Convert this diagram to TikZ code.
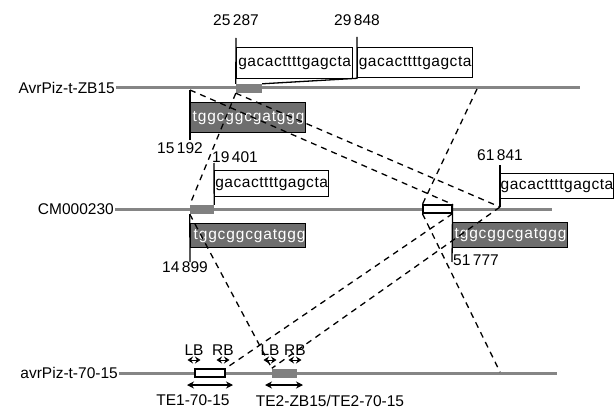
\documentclass[tikz,border=0pt]{standalone}
\usepackage{fontspec}
\setmainfont{Liberation Sans}
\newfontfamily\seqfont[LetterSpace=3.5]{Liberation Sans}
\newfontfamily\darkseqfont[LetterSpace=5.5]{Liberation Sans}
\usetikzlibrary{arrows.meta,positioning}

\begin{document}
\begin{tikzpicture}[
  x=1pt, y=-1pt,
  font=\fontsize{15.5}{18}\selectfont,
  >=Stealth,
  chrom/.style={draw=black!48, line width=3pt},
  strain/.style={anchor=east, inner sep=1pt},
  coordlab/.style={inner sep=1pt},
  tick/.style={draw=black, line width=1.3pt},
  link/.style={draw=black, line width=1.3pt, dash pattern=on 6pt off 5pt},
  graybox/.style={fill=black!50, inner sep=0pt, minimum height=9pt},
  whitebox/.style={draw=black, fill=white, line width=1.2pt, inner sep=0pt, minimum height=8pt},
  seqbox/.style={draw=black, fill=white, line width=1.3pt, inner sep=0pt,
    minimum width=115pt, minimum height=26pt, anchor=north west,
    font=\fontsize{15.5}{18}\seqfont},
  darkbox/.style={seqbox, fill=black!57, text=white, inner xsep=2pt,
    text width=111pt, align=left, font=\fontsize{15.5}{18}\darkseqfont},
  span/.style={<->, line width=1.1pt, >={Stealth[length=7pt, width=7pt]}},
  bnd/.style={<->, line width=1pt, >={Stealth[length=5.5pt, width=7pt]}},
  lab/.style={inner sep=1pt}
]
  \useasboundingbox (0,0) rectangle (615,409);

  % AvrPiz-t-ZB15
  \node[strain] (zb) at (116,88) {AvrPiz-t-ZB15};
  \coordinate (zbE) at (580,88);
  \draw[chrom] (zb.east) -- (zbE);
  \node[graybox, minimum width=26pt] (zbG) at (249,88.5) {};
  \node[seqbox, minimum width=116pt, minimum height=31pt] (zbS1) at (236,47) {gacacttttgagcta};
  \node[seqbox, minimum height=30pt] (zbS2) at (357,47) {gacacttttgagcta};
  \node[darkbox, minimum height=30pt] (zbD) at (190,102) {tggcggcgatggg};
  \coordinate (zbT1) at (236,38);
  \coordinate (zbT2) at (357,37);
  \coordinate (zbT3) at (190,90);
  \coordinate (zbT3b) at (190,140);
  \coordinate (zbX) at (477,89);
  \draw[tick] (zbT1) -- (zbG.north west);
  \draw[tick] (zbT2) -- (zbS2.south west) -- (zbG.north east);
  \draw[tick] (zbT3) -- (zbT3b);
  \node[coordlab] (p25287) at (236,20) {25\,287};
  \node[coordlab] (p29848) at (357,20) {29\,848};
  \node[coordlab] (p15192) at (180,148) {15\,192};

  % CM000230
  \node[strain] (cm) at (115,209) {CM000230};
  \coordinate (cmE) at (552,209);
  \draw[chrom] (cm.east) -- (cmE);
  \node[graybox, minimum width=24pt] (cmG) at (202,209.5) {};
  \node[whitebox, minimum width=29pt] (cmW) at (437.5,209) {};
  \node[seqbox, minimum width=114pt] (cmS1) at (214,170) {gacacttttgagcta};
  \node[seqbox, minimum width=110pt, minimum height=25pt] (cmS2) at (500,173) {gacacttttgagcta};
  \node[darkbox, minimum height=24pt, text width=109pt] (cmD1) at (190,223) {tggcggcgatggg};
  \node[darkbox, minimum height=25pt] (cmD2) at (452,222) {tggcggcgatggg};
  \coordinate (cmT1) at (214,163);
  \coordinate (cmT2) at (190,262);
  \coordinate (cmT3) at (452,262);
  \coordinate (cmT4) at (500,165);
  \coordinate (cmT4b) at (500,207);
  \draw[tick] (cmT1) -- (cmG.north east);
  \draw[tick] (cmG.south west) -- (cmT2);
  \draw[tick] (cmW.north east) -- (cmT3);
  \draw[tick] (cmT4) -- (cmT4b);
  \node[coordlab] (p19401) at (235,157) {19\,401};
  \node[coordlab] (p14899) at (185,267) {14\,899};
  \node[coordlab] (p61841) at (500,155) {61\,841};
  \node[coordlab] (p51777) at (476,260) {51\,777};

  % avrPiz-t-70-15
  \node[strain] (av) at (119,373) {avrPiz-t-70-15};
  \coordinate (avE) at (557,373);
  \draw[chrom] (av.east) -- (avE);
  \node[whitebox, minimum width=30pt] (avW) at (210,373) {};
  \node[graybox, minimum width=25pt] (avG) at (284.5,373) {};
  \coordinate (avX) at (500,372);

  \coordinate (te1a) at (187,385);
  \coordinate (te1b) at (233,385);
  \coordinate (te2a) at (265,385);
  \coordinate (te2b) at (303,385);
  \draw[span] (te1a) -- (te1b);
  \draw[span] (te2a) -- (te2b);
  \node[lab] (te1) at (193,400.5) {TE1-70-15};
  \node[lab] (te2) at (330,400.5) {TE2-ZB15/TE2-70-15};

  \foreach \nm/\xx/\txt in {lb1/194/LB, rb1/223/RB, lb2/270/LB, rb2/295/RB} {
    \coordinate (\nm c) at (\xx,360);
    \coordinate (\nm a) at (\xx-6.5,360);
    \coordinate (\nm b) at (\xx+6.5,360);
    \draw[bnd] (\nm a) -- (\nm b);
    \node[lab, above=3.5pt of \nm c] (\nm) {\txt};
  }

  % links
  \draw[link] (zbT3) -- (cmW.north east);
  \draw[link] (zbG.south west) -- (cmT4b);
  \draw[link] (zbG.south west) -- (cmG.north west);
  \draw[link] (zbX) -- (cmW.north west);
  \draw[link] (cmG.south west) -- (avG.north west);
  \draw[link] (cmW.south west) -- (avX);
  \draw[link] (cmW.south east) -- (avW.north east);
  \draw[link] (cmT4b) -- (avG.north west);
\end{tikzpicture}
\end{document}
